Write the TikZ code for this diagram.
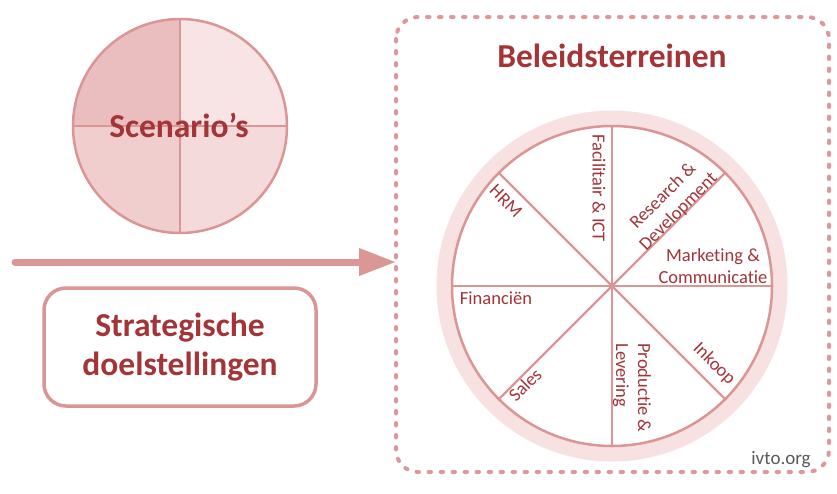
\documentclass[tikz,border=0pt]{standalone}
\usepackage{fontspec}
\setmainfont{Carlito}[Ligatures=NoCommon]
\usetikzlibrary{arrows.meta}
\definecolor{dred}{RGB}{163,52,56}
\definecolor{pinkline}{RGB}{217,150,148}
\definecolor{dotpink}{RGB}{221,152,156}
\definecolor{arrowpink}{RGB}{219,150,150}
\definecolor{qa}{RGB}{234,190,190}
\definecolor{qb}{RGB}{248,228,228}
\definecolor{qc}{RGB}{240,206,206}
\definecolor{qd}{RGB}{244,218,218}
\definecolor{ringpink}{RGB}{247,225,225}
\definecolor{greytext}{RGB}{89,89,89}
\tikzset{
  bigtitle/.style={text=dred, font=\fontsize{33.5}{39}\selectfont\bfseries, inner sep=0pt},
  wheellabel/.style={text=dred, font=\fontsize{18.5}{22}\selectfont, inner sep=0pt, align=center},
  spoke/.style={pinkline, line width=2.2pt},
  dotframe/.style={dotpink, line width=4pt, line cap=round, dash pattern=on 2.5pt off 9.5pt, rounded corners=22pt},
  bigarrow/.style={arrowpink, line width=7pt, line cap=round, -{Triangle[length=37pt,width=26pt]}},
  goalbox/.style={draw=pinkline, line width=3.5pt, rounded corners=22pt, minimum width=272pt, minimum height=118pt, align=center, text=dred, font=\fontsize{33.5}{39}\selectfont\bfseries}
}
\begin{document}
\begin{tikzpicture}[x=1pt,y=-1pt]
\useasboundingbox (0,0) rectangle (837,493);

% Scenario circle
\coordinate (sc) at (180,126);
\begin{scope}
  \clip (sc) circle[radius=107];
  \fill[qa] (60,0) rectangle (180,126);
  \fill[qb] (180,0) rectangle (300,126);
  \fill[qc] (60,126) rectangle (180,250);
  \fill[qd] (180,126) rectangle (300,250);
\end{scope}
\draw[spoke] (73,126) -- (287,126);
\draw[spoke] (180,19) -- (180,233);
\draw[pinkline, line width=2.5pt] (sc) circle[radius=107];
\node[bigtitle, anchor=base] (scen) at (179,137) {Scenario’s};

% Arrow
\coordinate (arrS) at (15,262);
\coordinate (arrE) at (396,262);
\draw[bigarrow] (arrS) -- (arrE);

% Goal box
\node[goalbox] (goals) at (180,347) {Strategische\\doelstellingen};

% Dotted frame
\draw[dotframe] (396,17) rectangle (829,472);
\node[bigtitle, anchor=base] (beleid) at (612,67) {Beleidsterreinen};

% Wheel
\coordinate (wc) at (612,286);
\draw[ringpink, line width=15pt] (wc) circle[radius=168];
\draw[pinkline, line width=2.5pt, fill=white] (wc) circle[radius=160];
\foreach \a in {0,45,...,315} {
  \draw[spoke] (wc) -- ++(\a:160);
}
\node[wheellabel, rotate=-90] (fac) at (599,188) {Facilitair \& ICT};
\node[wheellabel, rotate=45] (rd) at (671,204) {Research \&\\Development};
\node[wheellabel] (mc) at (713,266) {Marketing \&\\Communicatie};
\node[wheellabel] (fin) at (496,298) {Financiën};
\node[wheellabel, rotate=-45] (hrm) at (506,201) {HRM};
\node[wheellabel, rotate=45] (sales) at (525,385) {Sales};
\node[wheellabel, rotate=-90, align=left] (prod) at (632,388) {Productie \&\\Levering};
\node[wheellabel, rotate=-45] (ink) at (714,364) {Inkoop};

\node[text=greytext, font=\fontsize{19}{22}\selectfont, inner sep=0pt] (ivto) at (781,460) {ivto.org};
\end{tikzpicture}
\end{document}
